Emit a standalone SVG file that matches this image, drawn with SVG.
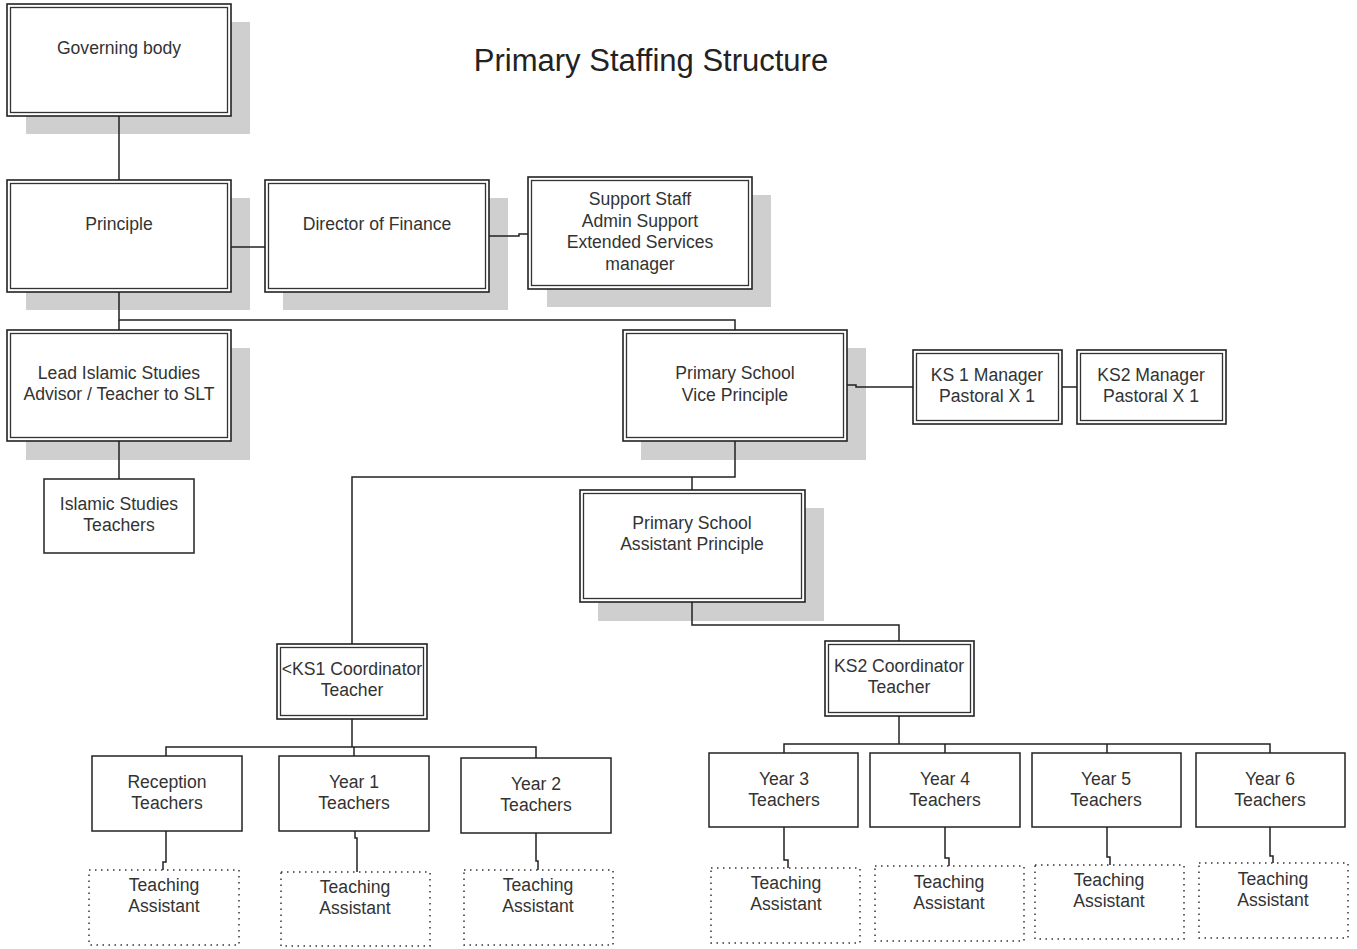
<svg xmlns="http://www.w3.org/2000/svg" width="1357" height="949" viewBox="0 0 1357 949">
<style>
.sh{fill:#cfcfcf}
.o{fill:#fff;stroke:#222;stroke-width:1.6}
.i{fill:none;stroke:#333;stroke-width:1.3}
.s{fill:#fff;stroke:#222;stroke-width:1.5}
.d{fill:#fff;stroke:#333;stroke-width:1.5;stroke-dasharray:1.5 4.5}
.t{font-family:"Liberation Sans",Arial,sans-serif;font-size:17.6px;fill:#333;text-anchor:middle}
.title{font-family:"Liberation Sans",Arial,sans-serif;font-size:31px;fill:#222;text-anchor:middle}
.c{fill:none;stroke:#222;stroke-width:1.5}
</style>
<rect width="1357" height="949" fill="#fff"/>
<text class="title" x="651" y="71">Primary Staffing Structure</text>

<g id="governing-body">
<rect class="sh" x="26" y="22" width="224" height="112"/>
<rect class="o" x="7" y="4" width="224" height="112"/>
<rect class="i" x="10.5" y="7.5" width="217" height="105"/>
<text class="t" x="119" y="54">Governing body</text>
</g>

<g id="principle">
<rect class="sh" x="26" y="198" width="224" height="112"/>
<rect class="o" x="7" y="180" width="224" height="112"/>
<rect class="i" x="10.5" y="183.5" width="217" height="105"/>
<text class="t" x="119" y="230">Principle</text>
</g>

<g id="director-finance">
<rect class="sh" x="283" y="198" width="225" height="112"/>
<rect class="o" x="265" y="180" width="224" height="112"/>
<rect class="i" x="268.5" y="183.5" width="217" height="105"/>
<text class="t" x="377" y="230">Director of Finance</text>
</g>

<g id="support-staff">
<rect class="sh" x="547" y="195" width="224" height="112"/>
<rect class="o" x="528" y="177" width="224" height="112"/>
<rect class="i" x="531.5" y="180.5" width="217" height="105"/>
<text class="t" x="640" y="205">Support Staff</text>
<text class="t" x="640" y="227">Admin Support</text>
<text class="t" x="640" y="248">Extended Services</text>
<text class="t" x="640" y="270">manager</text>
</g>

<g id="lead-islamic">
<rect class="sh" x="26" y="348" width="224" height="112"/>
<rect class="o" x="7" y="330" width="224" height="111"/>
<rect class="i" x="10.5" y="333.5" width="217" height="104"/>
<text class="t" x="119" y="379">Lead Islamic Studies</text>
<text class="t" x="119" y="400">Advisor / Teacher to SLT</text>
</g>

<g id="islamic-teachers">
<rect class="s" x="44" y="479" width="150" height="74"/>
<text class="t" x="119" y="510">Islamic Studies</text>
<text class="t" x="119" y="531">Teachers</text>
</g>

<g id="vice-principle">
<rect class="sh" x="641" y="348" width="225" height="112"/>
<rect class="o" x="623" y="330" width="224" height="111"/>
<rect class="i" x="626.5" y="333.5" width="217" height="104"/>
<text class="t" x="735" y="379">Primary School</text>
<text class="t" x="735" y="401">Vice Principle</text>
</g>

<g id="ks1-manager">
<rect class="o" x="913" y="350" width="149" height="74"/>
<rect class="i" x="916.5" y="353.5" width="142" height="67"/>
<text class="t" x="987" y="381">KS 1 Manager</text>
<text class="t" x="987" y="402">Pastoral X 1</text>
</g>

<g id="ks2-manager">
<rect class="o" x="1077" y="350" width="149" height="74"/>
<rect class="i" x="1080.5" y="353.5" width="142" height="67"/>
<text class="t" x="1151" y="381">KS2 Manager</text>
<text class="t" x="1151" y="402">Pastoral X 1</text>
</g>

<g id="assistant-principle">
<rect class="sh" x="598" y="508" width="226" height="113"/>
<rect class="o" x="580" y="490" width="225" height="112"/>
<rect class="i" x="583.5" y="493.5" width="218" height="105"/>
<text class="t" x="692" y="529">Primary School</text>
<text class="t" x="692" y="550">Assistant Principle</text>
</g>

<g id="ks1-coordinator">
<rect class="o" x="277" y="644" width="150" height="75"/>
<rect class="i" x="280.5" y="647.5" width="143" height="68"/>
<text class="t" x="352" y="675">&lt;KS1 Coordinator</text>
<text class="t" x="352" y="696">Teacher</text>
</g>

<g id="ks2-coordinator">
<rect class="o" x="825" y="641" width="149" height="75"/>
<rect class="i" x="828.5" y="644.5" width="142" height="68"/>
<text class="t" x="899" y="672">KS2 Coordinator</text>
<text class="t" x="899" y="693">Teacher</text>
</g>

<g id="reception">
<rect class="s" x="92" y="756" width="150" height="75"/>
<text class="t" x="167" y="788">Reception</text>
<text class="t" x="167" y="809">Teachers</text>
</g>
<g id="year1">
<rect class="s" x="279" y="756" width="150" height="75"/>
<text class="t" x="354" y="788">Year 1</text>
<text class="t" x="354" y="809">Teachers</text>
</g>
<g id="year2">
<rect class="s" x="461" y="758" width="150" height="75"/>
<text class="t" x="536" y="790">Year 2</text>
<text class="t" x="536" y="811">Teachers</text>
</g>
<g id="year3">
<rect class="s" x="709" y="753" width="149" height="74"/>
<text class="t" x="784" y="785">Year 3</text>
<text class="t" x="784" y="806">Teachers</text>
</g>
<g id="year4">
<rect class="s" x="870" y="753" width="150" height="74"/>
<text class="t" x="945" y="785">Year 4</text>
<text class="t" x="945" y="806">Teachers</text>
</g>
<g id="year5">
<rect class="s" x="1032" y="753" width="149" height="74"/>
<text class="t" x="1106" y="785">Year 5</text>
<text class="t" x="1106" y="806">Teachers</text>
</g>
<g id="year6">
<rect class="s" x="1196" y="753" width="149" height="74"/>
<text class="t" x="1270" y="785">Year 6</text>
<text class="t" x="1270" y="806">Teachers</text>
</g>

<g id="ta-reception">
<rect class="d" x="89" y="870" width="150" height="75"/>
<text class="t" x="164" y="891">Teaching</text>
<text class="t" x="164" y="912">Assistant</text>
</g>
<g id="ta-year1">
<rect class="d" x="281" y="872" width="149" height="74"/>
<text class="t" x="355" y="893">Teaching</text>
<text class="t" x="355" y="914">Assistant</text>
</g>
<g id="ta-year2">
<rect class="d" x="464" y="870" width="149" height="75"/>
<text class="t" x="538" y="891">Teaching</text>
<text class="t" x="538" y="912">Assistant</text>
</g>
<g id="ta-year3">
<rect class="d" x="711" y="868" width="149" height="75"/>
<text class="t" x="786" y="889">Teaching</text>
<text class="t" x="786" y="910">Assistant</text>
</g>
<g id="ta-year4">
<rect class="d" x="875" y="866" width="149" height="75"/>
<text class="t" x="949" y="888">Teaching</text>
<text class="t" x="949" y="909">Assistant</text>
</g>
<g id="ta-year5">
<rect class="d" x="1035" y="865" width="149" height="74"/>
<text class="t" x="1109" y="886">Teaching</text>
<text class="t" x="1109" y="907">Assistant</text>
</g>
<g id="ta-year6">
<rect class="d" x="1199" y="863" width="149" height="75"/>
<text class="t" x="1273" y="885">Teaching</text>
<text class="t" x="1273" y="906">Assistant</text>
</g>

<g id="connectors">
<path class="c" d="M119 116V180"/>
<path class="c" d="M231 247H265"/>
<path class="c" d="M489 236H519V234H528"/>
<path class="c" d="M119 292V320H735V330"/>
<path class="c" d="M119 320V330"/>
<path class="c" d="M119 441V479"/>
<path class="c" d="M847 385H856V387H913"/>
<path class="c" d="M1062 387H1077"/>
<path class="c" d="M735 441V477H352V644"/>
<path class="c" d="M692 477V490"/>
<path class="c" d="M692 602V625H899V641"/>
<path class="c" d="M352 719V747"/>
<path class="c" d="M166 756V747H536V758"/>
<path class="c" d="M354 747V756"/>
<path class="c" d="M899 716V744"/>
<path class="c" d="M784 753V744H1270V753"/>
<path class="c" d="M945 744V753"/>
<path class="c" d="M1107 744V753"/>
<path class="c" d="M166 831V862H163V870"/>
<path class="c" d="M355 831V838H357V872"/>
<path class="c" d="M536 833V861H538V870"/>
<path class="c" d="M784 827V860H788V868"/>
<path class="c" d="M945 827V858H949V866"/>
<path class="c" d="M1107 827V857H1110V865"/>
<path class="c" d="M1270 827V856H1273V863"/>
</g>
</svg>
